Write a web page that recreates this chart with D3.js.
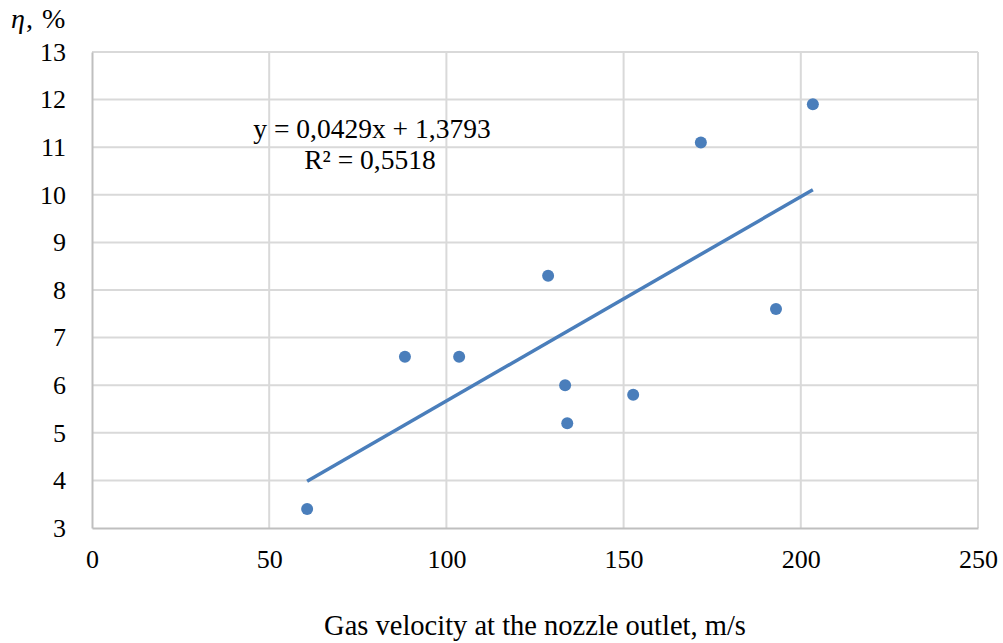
<!DOCTYPE html>
<html lang="en">
<head>
    <meta charset="UTF-8">
    <title>Gas velocity vs efficiency</title>
    <style>
        body { margin: 0; background: #fff; }
        text { font-family: "Liberation Serif", "Times New Roman", serif; fill: #000; }
    </style>
</head>
<body>
    <svg></svg>
    <script src="https://d3js.org/d3.v7.min.js"></script>
    <script>
      // gas velocity, m/s
      const velocity = [60.7, 88.3, 103.6, 128.7, 133.5, 134.1, 152.7, 171.8, 193.0, 203.4];
      // efficiency eta, %
      const eta = [3.4, 6.6, 6.6, 8.3, 6.0, 5.2, 5.8, 11.1, 7.6, 11.9];
      const xTicks = [0, 50, 100, 150, 200, 250];
      const yTicks = [3, 4, 5, 6, 7, 8, 9, 10, 11, 12, 13];
      const slope = 0.0429, intercept = 1.3793;

      const width = 1003;
      const height = 643;
      const padding = { top: 52, right: 25, bottom: 115, left: 92 };

      const svg = d3.select('svg').attr('width', width).attr('height', height);

      const xScale = d3.scaleLinear()
          .domain([0, 250])
          .range([padding.left, width - padding.right]);

      const yScale = d3.scaleLinear()
          .domain([3, 13])
          .range([height - padding.bottom, padding.top]);

      // grid
      svg.append("g")
          .attr("stroke", "#d9d9d9")
          .attr("stroke-width", 2)
        .selectAll("line.v")
        .data(xTicks.slice(1))
        .join("line")
          .attr("x1", d => xScale(d)).attr("x2", d => xScale(d))
          .attr("y1", yScale(3)).attr("y2", yScale(13));

      svg.append("g")
          .attr("stroke", "#d9d9d9")
          .attr("stroke-width", 2)
        .selectAll("line.h")
        .data(yTicks.slice(1))
        .join("line")
          .attr("x1", xScale(0)).attr("x2", xScale(250))
          .attr("y1", d => yScale(d)).attr("y2", d => yScale(d));

      // axes
      const xAxis = g => g
          .attr("transform", `translate(0,${yScale(3)})`)
          .call(d3.axisBottom(xScale).tickValues(xTicks).tickSize(0).tickPadding(22))
          .call(g => g.select(".domain").attr("stroke", "#bfbfbf").attr("stroke-width", 2))
          .call(g => g.selectAll("text").attr("font-size", 26).attr("font-family", "Liberation Serif"));

      const yAxis = g => g
          .attr("transform", `translate(${xScale(0)},0)`)
          .call(d3.axisLeft(yScale).tickValues(yTicks).tickSize(0).tickPadding(26))
          .call(g => g.select(".domain").attr("stroke", "#bfbfbf").attr("stroke-width", 2))
          .call(g => g.selectAll("text").attr("font-size", 26).attr("font-family", "Liberation Serif"));

      svg.append("g").attr("class", "x-axis").call(xAxis);
      svg.append("g").attr("class", "y-axis").call(yAxis);

      // trendline
      const xMin = d3.min(velocity), xMax = d3.max(velocity);
      svg.append("line")
          .attr("x1", xScale(xMin)).attr("y1", yScale(slope * xMin + intercept))
          .attr("x2", xScale(xMax)).attr("y2", yScale(slope * xMax + intercept))
          .attr("stroke", "#4a7ebb")
          .attr("stroke-width", 3.5);

      // points
      svg.append("g")
          .attr("fill", "#4a7ebb")
        .selectAll("circle")
        .data(velocity.map((v, i) => [v, eta[i]]))
        .join("circle")
          .attr("cx", d => xScale(d[0]))
          .attr("cy", d => yScale(d[1]))
          .attr("r", 6);

      // equation
      svg.append("text")
          .attr("x", 372).attr("y", 138)
          .attr("text-anchor", "middle")
          .attr("font-size", 27.5)
          .text("y = 0,0429x + 1,3793");
      svg.append("text")
          .attr("x", 370).attr("y", 169)
          .attr("text-anchor", "middle")
          .attr("font-size", 27.5)
          .text("R² = 0,5518");

      // axis titles
      const yt = svg.append("text")
          .attr("x", 11).attr("y", 28)
          .attr("font-size", 28);
      yt.append("tspan").attr("font-style", "italic").text("η");
      yt.append("tspan").attr("dx", 1).text(",");
      yt.append("tspan").attr("dx", 9).text("%");

      svg.append("text")
          .attr("x", (xScale(0) + xScale(250)) / 2).attr("y", 635)
          .attr("text-anchor", "middle")
          .attr("font-size", 28.5)
          .text("Gas velocity at the nozzle outlet, m/s");
    </script>
</body>
</html>
